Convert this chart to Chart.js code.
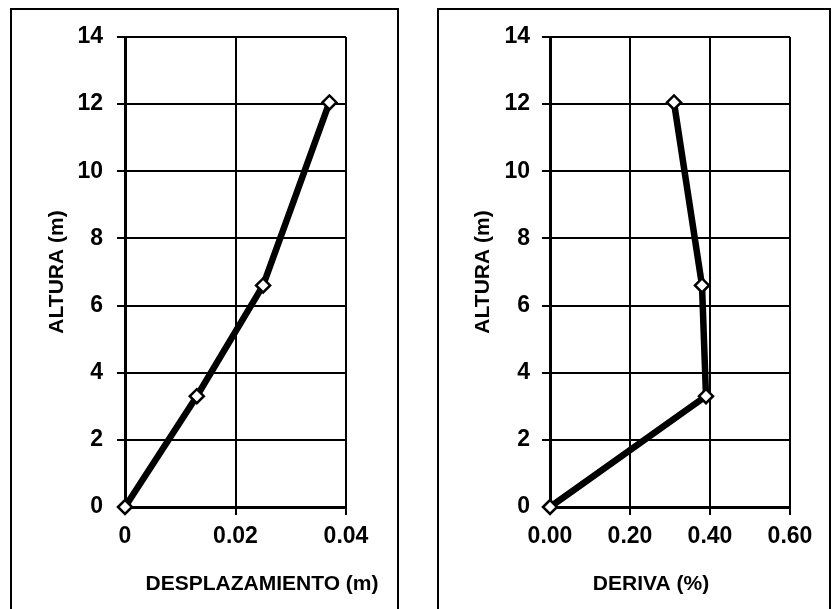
<!DOCTYPE html>
<html>
<head>
<meta charset="utf-8">
<script src="https://cdn.jsdelivr.net/npm/chart.js@4/dist/chart.umd.min.js"></script>
<style>
  html, body { margin: 0; padding: 0; background: #fff; width: 834px; height: 609px; overflow: hidden; }
  .panel { position: absolute; border: 2px solid #000; box-sizing: border-box; }
  canvas { position: absolute; top: 0; }
</style>
</head>
<body>
<div class="panel" style="left:10px; top:8px; width:389px; height:620px;"></div>
<div class="panel" style="left:437px; top:8px; width:394px; height:620px;"></div>
<canvas id="c1" width="417" height="609" style="left:0px;"></canvas>
<canvas id="c2" width="417" height="609" style="left:417px;"></canvas>
<script>
// ---- data ----
const alturas = [0, 3.3, 6.6, 12.05];
const desplazamientos = [0, 0.013, 0.025, 0.037];
const derivas = [0, 0.39, 0.38, 0.31];
const alturaTicks = ['0', '2', '4', '6', '8', '10', '12', '14'];
const desplazamientoTicks = ['0', '0.02', '0.04'];
const derivaTicks = ['0.00', '0.20', '0.40', '0.60'];
const yTitle = 'ALTURA (m)';
const xTitleLeft = 'DESPLAZAMIENTO (m)';
const xTitleRight = 'DERIVA (%)';

Chart.defaults.font.family = '"Liberation Sans", Arial, sans-serif';
Chart.defaults.font.weight = 'bold';
Chart.defaults.color = '#000';

const TICK_FONT = { family: '"Liberation Sans", Arial, sans-serif', size: 23, weight: 'bold' };
const TITLE_FONT = { family: '"Liberation Sans", Arial, sans-serif', size: 21, weight: 'bold' };

const xTitlePlugin = {
  id: 'xTitle',
  afterDraw(chart, args, opts) {
    const ctx = chart.ctx;
    ctx.save();
    ctx.font = 'bold 21px "Liberation Sans", Arial, sans-serif';
    ctx.fillStyle = '#000';
    ctx.textAlign = 'center';
    ctx.textBaseline = 'middle';
    ctx.fillText(opts.text, opts.x, opts.y);
    ctx.restore();
  }
};

function makeChart(id, xs, xMax, xStep, xLabels, yWidth, padRight, yTickPad, yTitlePad, xTitle, xTitleX) {
  const pts = xs.map((x, i) => ({ x: x, y: alturas[i] }));
  return new Chart(document.getElementById(id), {
    type: 'line',
    data: {
      datasets: [{
        data: pts,
        borderColor: '#000',
        borderWidth: 6.5,
        tension: 0,
        pointStyle: 'rectRot',
        pointRadius: 7,
        pointBorderWidth: 2.5,
        pointBorderColor: '#000',
        pointBackgroundColor: '#fff',
        clip: false
      }]
    },
    plugins: [xTitlePlugin],
    options: {
      responsive: false,
      animation: false,
      devicePixelRatio: 1,
      layout: { padding: { left: 0, top: 37, right: padRight, bottom: 0 } },
      plugins: {
        legend: { display: false },
        tooltip: { enabled: false },
        xTitle: { text: xTitle, x: xTitleX, y: 584 }
      },
      scales: {
        x: {
          type: 'linear',
          min: 0, max: xMax,
          ticks: {
            stepSize: xStep,
            font: TICK_FONT,
            padding: 8,
            maxRotation: 0,
            autoSkip: false,
            callback: (v, i) => xLabels[i]
          },
          grid: { color: '#000', lineWidth: 2, drawTicks: true, tickLength: 8, tickColor: '#000', tickWidth: 2 },
          border: { display: true, color: '#000', width: 3 },
          afterFit: (s) => { s.height = 102; }
        },
        y: {
          type: 'linear',
          min: 0, max: 14,
          ticks: {
            stepSize: 2,
            font: TICK_FONT,
            padding: yTickPad,
            autoSkip: false,
            callback: (v, i) => alturaTicks[i]
          },
          title: {
            display: true,
            text: yTitle,
            font: TITLE_FONT,
            padding: { top: yTitlePad, bottom: 0 }
          },
          grid: { color: '#000', lineWidth: 2, drawTicks: true, tickLength: 8, tickColor: '#000', tickWidth: 2 },
          border: { display: true, color: '#000', width: 3 },
          afterFit: (s) => { s.width = yWidth; }
        }
      }
    }
  });
}

makeChart('c1', desplazamientos, 0.04, 0.02, desplazamientoTicks, 125, 71, 14, 45, xTitleLeft, 262);
makeChart('c2', derivas, 0.6, 0.2, derivaTicks, 133, 44, 12, 54, xTitleRight, 234);
</script>
</body>
</html>
